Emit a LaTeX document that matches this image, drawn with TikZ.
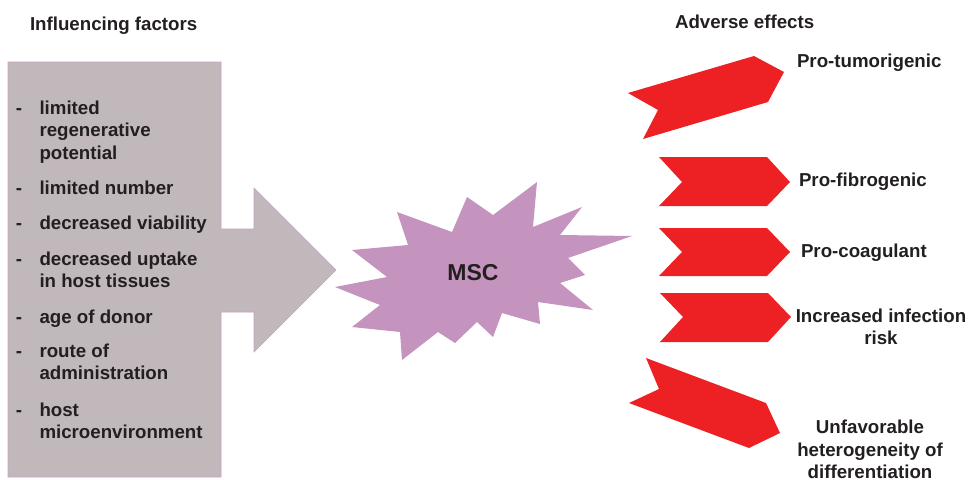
\documentclass[tikz,border=0pt]{standalone}
\usepackage{fontspec}
\setmainfont{Liberation Sans}
\definecolor{boxgray}{HTML}{C0B8BB}
\definecolor{boxline}{HTML}{C9A0C6}
\definecolor{burst}{HTML}{C493BE}
\definecolor{chev}{HTML}{ED2024}
\definecolor{ink}{HTML}{231F20}
\begin{document}
\begin{tikzpicture}[x=1pt,y=-1pt,
  lbl/.style={inner sep=0pt,outer sep=0pt,text=ink,font=\fontsize{18.7}{22.5}\selectfont\bfseries},
  lw/.style={lbl,anchor=base west},
  lc/.style={lbl,anchor=base},
  chevron/.style={fill=chev,draw=none}]
\useasboundingbox (0,0) rectangle (968,479);
% grey box with arrow
\path[fill=boxgray,draw=boxline,line width=0.6pt]
  (8,62) -- (221,62) -- (221,229) -- (254,229) -- (254,188) -- (336,270)
  -- (254,352) -- (254,312) -- (221,312) -- (221,477) -- (8,477) -- cycle;
% burst
\path[fill=burst]
  (335,287) -- (387,277) -- (352,250) -- (408,245) -- (397,212) -- (452,232)
  -- (467,197) -- (493,215) -- (537,182) -- (533,227) -- (582,207) -- (560,235)
  -- (632,236) -- (568,258) -- (585,275) -- (560,283) -- (593,310) -- (538,302)
  -- (540,324) -- (502,313) -- (493,337) -- (477,322) -- (455,343) -- (438,332)
  -- (402,360) -- (400,332) -- (352,327) -- (380,305) -- cycle;
% chevrons
\path[chevron] (628,93) -- (754,56) -- (784,72) -- (768,102) -- (643,139) -- (658,110) -- cycle;
\path[chevron] (659,157) -- (767,157) -- (790,182) -- (767,206) -- (659,206) -- (682,182) -- cycle;
\path[chevron] (659,228) -- (767,228) -- (790,252) -- (767,276) -- (659,276) -- (682,252) -- cycle;
\path[chevron] (660,293) -- (768,293) -- (791,317) -- (768,342) -- (660,342) -- (683,317) -- cycle;
\path[chevron] (646,358) -- (766,403) -- (780,433) -- (749,448) -- (629,403) -- (659,389) -- cycle;
% headings
\node[lw] (hinf) at (30,30) {Influencing factors};
\node[lw] (hadv) at (675,28) {Adverse effects};
% list
\node[lw] (d1) at (16,114) {-};
\node[lw] (t1a) at (39.5,114) {limited};
\node[lw] (t1b) at (39.5,136.5) {regenerative};
\node[lw] (t1c) at (39.5,159) {potential};
\node[lw] (d2) at (16,194) {-};
\node[lw] (t2) at (39.5,194) {limited number};
\node[lw] (d3) at (16,229) {-};
\node[lw] (t3) at (39.5,229) {decreased viability};
\node[lw] (d4) at (16,265) {-};
\node[lw] (t4a) at (39.5,265) {decreased uptake};
\node[lw] (t4b) at (39.5,287.5) {in host tissues};
\node[lw] (d5) at (16,323) {-};
\node[lw] (t5) at (39.5,323) {age of donor};
\node[lw] (d6) at (16,357) {-};
\node[lw] (t6a) at (39.5,357) {route of};
\node[lw] (t6b) at (39.5,379.5) {administration};
\node[lw] (d7) at (16,416) {-};
\node[lw] (t7a) at (39.5,416) {host};
\node[lw] (t7b) at (39.5,438.5) {microenvironment};
% MSC
\node[lbl,anchor=base,font=\fontsize{23}{27}\selectfont\bfseries] (msc) at (473,280) {MSC};
% effects
\node[lw] (e1) at (797,67) {Pro-tumorigenic};
\node[lw] (e2) at (799,186) {Pro-fibrogenic};
\node[lw] (e3) at (801,257) {Pro-coagulant};
\node[lc] (e4a) at (881,322) {Increased infection};
\node[lc] (e4b) at (881,344.5) {risk};
\node[lc] (e5a) at (870,433) {Unfavorable};
\node[lc] (e5b) at (870,456) {heterogeneity of};
\node[lc] (e5c) at (870,478.5) {differentiation};
\end{tikzpicture}
\end{document}
